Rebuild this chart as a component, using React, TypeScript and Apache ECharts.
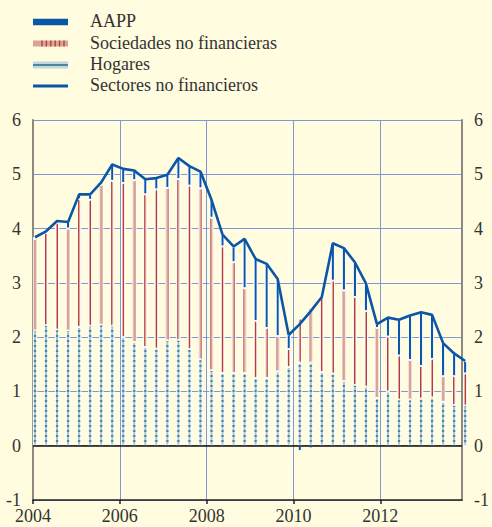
import React, { useEffect, useRef } from "react";
import * as echarts from "echarts";

const years = [2004, 2005, 2006, 2007, 2008, 2009, 2010, 2011, 2012, 2013];
const quarterNames = ["I", "II", "III", "IV"];
const categories = years.flatMap((y) => quarterNames.map((q) => `${q} ${y}`));

const hogares = [
  2.12, 2.22, 2.14, 2.12, 2.19, 2.21, 2.23, 2.21,
  2.0, 1.91, 1.82, 1.79, 1.94, 1.95, 1.78, 1.59,
  1.39, 1.34, 1.34, 1.34, 1.25, 1.25, 1.37, 1.45,
  1.53, 1.53, 1.36, 1.33, 1.19, 1.12, 1.09, 0.88,
  1.0, 0.85, 0.85, 0.87, 0.89, 0.81, 0.75, 0.74,
];
const sociedades = [
  1.69, 1.7, 1.96, 1.88, 2.35, 2.32, 2.57, 2.67,
  2.84, 2.98, 2.81, 2.93, 2.81, 2.96, 3.01, 3.15,
  2.81, 2.33, 2.04, 1.56, 1.05, 0.92, 0.65, 0.33,
  0.81, 1.0, 1.4, 1.71, 1.67, 1.62, 1.39, 1.29,
  1.01, 0.81, 0.73, 0.6, 0.71, 0.47, 0.53, 0.59,
];
const aapp = [
  0.03, 0.03, 0.04, 0.12, 0.09, 0.1, 0.05, 0.3,
  0.26, 0.18, 0.28, 0.21, 0.24, 0.39, 0.36, 0.31,
  0.33, 0.22, 0.29, 0.91, 1.14, 1.18, 1.05, 0.26,
  -0.1, -0.05, -0.04, 0.69, 0.78, 0.64, 0.51, 0.07,
  0.35, 0.66, 0.82, 0.99, 0.81, 0.61, 0.42, 0.23,
];
const sectores = [
  3.84, 3.95, 4.14, 4.12, 4.63, 4.63, 4.85, 5.18,
  5.1, 5.07, 4.91, 4.93, 4.99, 5.3, 5.15, 5.05,
  4.53, 3.89, 3.67, 3.81, 3.44, 3.35, 3.07, 2.04,
  2.24, 2.48, 2.74, 3.73, 3.64, 3.38, 2.99, 2.24,
  2.36, 2.32, 2.4, 2.46, 2.41, 1.89, 1.7, 1.56,
];
const seriesNames = ["AAPP", "Sociedades no financieras", "Hogares", "Sectores no financieros"];
const yearTicks = [2004, 2006, 2008, 2010, 2012];

const FONT = "Liberation Serif";
const BG = "#fffcdf";
const GRID = "#8097d6";
const BLUE = "#0b56a7";
const PINK = "#d9a396";
const RED = "#b63d37";
const LBLUE = "#a8c6d2";
const DBLUE = "#4a86a0";

function legendGraphics() {
  const els: any[] = [];
  const x0 = 33;
  const w = 35;
  const centers = [22, 43.5, 65, 86];
  centers.forEach((cy, i) => {
    els.push({
      type: "text",
      left: 90,
      top: cy - 10,
      style: { text: seriesNames[i], font: `18px ${FONT}`, fill: "#333" },
    });
  });
  els.push({ type: "rect", shape: { x: x0, y: centers[0] - 3.3, width: w, height: 6.6 }, style: { fill: BLUE } });
  els.push({ type: "rect", shape: { x: x0, y: centers[1] - 3, width: w, height: 6 }, style: { fill: PINK } });
  for (let k = 0; k < 6; k++) {
    els.push({
      type: "line",
      shape: { x1: x0 + 9 + k * 4.4, y1: centers[1] - 3, x2: x0 + 9 + k * 4.4, y2: centers[1] + 3 },
      style: { stroke: RED, lineWidth: 1.3 },
    });
  }
  els.push({ type: "rect", shape: { x: x0, y: centers[2] - 3.5, width: w, height: 7 }, style: { fill: "#c2d6de" } });
  els.push({
    type: "line",
    shape: { x1: x0, y1: centers[2], x2: x0 + w, y2: centers[2] },
    style: { stroke: DBLUE, lineWidth: 2 },
  });
  els.push({
    type: "line",
    shape: { x1: x0, y1: centers[3], x2: x0 + w, y2: centers[3] },
    style: { stroke: BLUE, lineWidth: 3 },
  });
  return els;
}

export default function App() {
  const ref = useRef<HTMLDivElement>(null);
  useEffect(() => {
    if (!ref.current) return;
    const chart = echarts.init(ref.current, undefined, { renderer: "svg" });
    const labelStyle = { fontFamily: FONT, fontSize: 18, color: "#333", lineHeight: 14 };
    const barStyle = (color: string, decal: any) => ({
      color,
      borderColor: "#ffffff",
      borderWidth: 0.8,
      decal,
    });
    chart.setOption({
      animation: false,
      backgroundColor: BG,
      aria: { enabled: true, decal: { show: true } },
      graphic: legendGraphics(),
      grid: [
        { left: 33, right: 23, top: 120, bottom: 27 },
        { left: 29.5, right: 21.3, top: 120, bottom: 27 },
      ],
      xAxis: [
        {
          gridIndex: 0,
          type: "value",
          min: 2004,
          max: 2013.88,
          interval: 2,
          axisLine: { show: true, onZero: false, lineStyle: { color: "#222", width: 1.5 } },
          axisTick: { show: true, length: 4, lineStyle: { color: "#222", width: 1.5 } },
          axisLabel: {
            ...labelStyle,
            margin: 9,
            showMaxLabel: false,
            formatter: (v: number) => (yearTicks.includes(v) ? String(v) : ""),
          },
          splitLine: { show: true, lineStyle: { color: GRID, width: 1 } },
        },
        {
          gridIndex: 1,
          type: "category",
          data: categories,
          boundaryGap: true,
          show: false,
        },
      ],
      yAxis: [
        {
          gridIndex: 0,
          type: "value",
          min: -1,
          max: 6,
          interval: 1,
          position: "left",
          axisLine: { show: true, lineStyle: { color: "#8c8a80", width: 2 } },
          axisTick: { show: false },
          axisLabel: { ...labelStyle, margin: 12 },
          splitLine: { show: true, lineStyle: { color: GRID, width: 1 } },
        },
        {
          gridIndex: 0,
          type: "value",
          min: -1,
          max: 6,
          interval: 1,
          position: "right",
          axisLine: { show: true, lineStyle: { color: "#8c8a80", width: 2 } },
          axisTick: { show: false },
          axisLabel: { ...labelStyle, margin: 12 },
          splitLine: { show: false },
        },
        {
          gridIndex: 1,
          type: "value",
          min: -1,
          max: 6,
          interval: 1,
          show: false,
          splitLine: { show: false },
        },
      ],
      series: [
        {
          name: "zero",
          type: "line",
          xAxisIndex: 0,
          yAxisIndex: 0,
          data: [],
          markLine: {
            silent: true,
            symbol: ["none", "none"],
            label: { show: false },
            lineStyle: { color: "#111", width: 1.5, type: "solid" },
            data: [{ yAxis: 0 }],
          },
        },
        {
          name: "Hogares",
          type: "bar",
          stack: "total",
          xAxisIndex: 1,
          yAxisIndex: 2,
          barWidth: 4,
          data: hogares,
          itemStyle: barStyle(LBLUE, {
            symbol: "rect",
            symbolSize: 1,
            color: DBLUE,
            dashArrayX: [1, 0],
            dashArrayY: [1.5, 2.5],
            rotation: 0,
          }),
        },
        {
          name: "Sociedades no financieras",
          type: "bar",
          stack: "total",
          xAxisIndex: 1,
          yAxisIndex: 2,
          barWidth: 4,
          data: sociedades,
          itemStyle: barStyle(PINK, {
            symbol: "rect",
            symbolSize: 1,
            color: RED,
            dashArrayX: [1, 2],
            dashArrayY: [4, 0],
            rotation: 0,
          }),
        },
        {
          name: "AAPP",
          type: "bar",
          stack: "total",
          xAxisIndex: 1,
          yAxisIndex: 2,
          barWidth: 4,
          data: aapp,
          itemStyle: barStyle(BLUE, { symbol: "none" }),
        },
        {
          name: "Sectores no financieros",
          type: "line",
          xAxisIndex: 1,
          yAxisIndex: 2,
          data: sectores,
          symbol: "none",
          z: 5,
          lineStyle: { color: BLUE, width: 2.6 },
          itemStyle: { color: BLUE },
        },
      ],
    });
    return () => chart.dispose();
  }, []);
  return (
    <div
      ref={ref}
      style={{ position: "absolute", left: 0, top: 0, width: 492, height: 527, background: BG }}
    />
  );
}
